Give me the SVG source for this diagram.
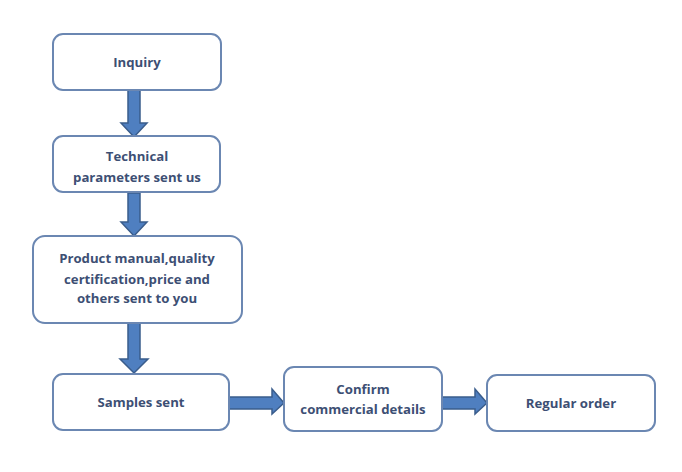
<svg xmlns="http://www.w3.org/2000/svg" width="682" height="472" viewBox="0 0 682 472">
<style>
.box{fill:#fff;stroke:#6b87b2;stroke-width:2}
.t{font-family:"Open Sans","Liberation Sans",sans-serif;font-weight:bold;font-size:13.2px;fill:#3d4f74;text-anchor:middle}
.arr{fill:#4f7fc0;stroke:#3a5d8c;stroke-width:1.5}
</style>
<rect width="682" height="472" fill="#fff"/>
<g id="connectors">
<polygon class="arr" points="128,90 140,90 140,123 147,123 134,137 121,123 128,123"/>
<polygon class="arr" points="128,193 140,193 140,222 147,222 134,236 121,222 128,222"/>
<polygon class="arr" points="128,323 140,323 140,359 148,359 134,373 120,359 128,359"/>
<polygon class="arr" points="229,397 272,397 272,389 284,403 272,414 272,409 229,409"/>
<polygon class="arr" points="442,397 475,397 475,389 487,403 475,414 475,409 442,409"/>
</g>
<g id="n1"><rect class="box" x="53" y="34" width="168" height="56" rx="10"/><text class="t" x="137" y="67">Inquiry</text></g>
<g id="n2"><rect class="box" x="53" y="136" width="167" height="56" rx="10"/><text class="t" x="137" y="161">Technical</text><text class="t" x="137" y="182">parameters sent us</text></g>
<g id="n3"><rect class="box" x="33" y="236" width="209" height="87" rx="12"/><text class="t" x="137" y="263">Product manual,quality</text><text class="t" x="137" y="284">certification,price and</text><text class="t" x="137" y="303">others sent to you</text></g>
<g id="n4"><rect class="box" x="53" y="374" width="176" height="56" rx="10"/><text class="t" x="141" y="407">Samples sent</text></g>
<g id="n5"><rect class="box" x="284" y="367" width="158" height="64" rx="10"/><text class="t" x="363" y="394">Confirm</text><text class="t" x="363" y="414">commercial details</text></g>
<g id="n6"><rect class="box" x="487" y="375" width="168" height="56" rx="10"/><text class="t" x="571" y="408">Regular order</text></g>
</svg>
